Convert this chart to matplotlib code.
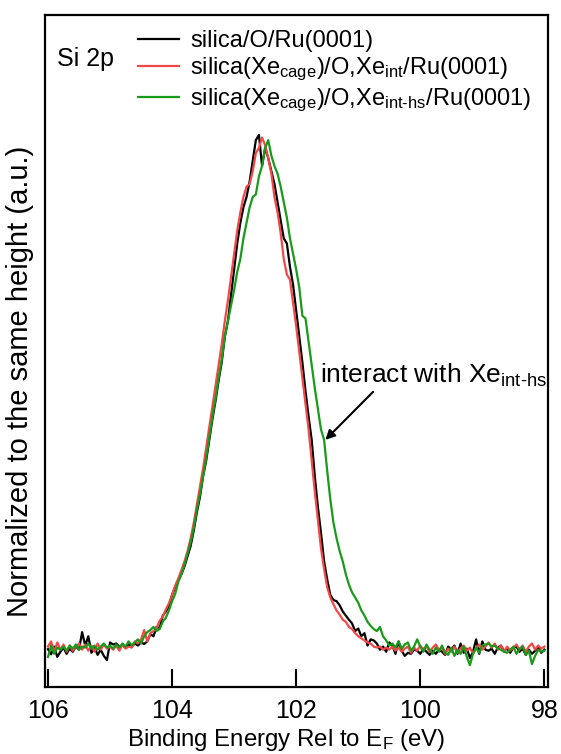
import numpy as np
import matplotlib
matplotlib.use("Agg")
import matplotlib.pyplot as plt

plt.rcParams['font.family'] = ['Liberation Sans', 'DejaVu Sans']
plt.rcParams['mathtext.fontset'] = 'custom'
plt.rcParams['mathtext.rm'] = 'Liberation Sans'
plt.rcParams['mathtext.default'] = 'regular'

# binding energy grid (eV), 106 -> 98 in 0.05 eV steps
energy = np.linspace(106.0, 98.0, 161)

# intensities normalised to the same peak height
black = [
    0.005, -0.005, 0.010, -0.010, 0.000, 0.008, -0.004, 0.006, 0.000, 0.010,
    0.004, 0.038, 0.012, 0.030, -0.002, 0.008, -0.006, 0.004, -0.008, -0.016,
    0.018, 0.014, 0.016, 0.010, 0.012, 0.008, 0.014, 0.010, 0.016, 0.012,
    0.018, 0.015, 0.020, 0.034, 0.030, 0.048, 0.046, 0.070, 0.078, 0.088,
    0.110, 0.125, 0.138, 0.150, 0.165, 0.185, 0.205, 0.235, 0.270, 0.300,
    0.340, 0.370, 0.410, 0.450, 0.485, 0.525, 0.560, 0.610, 0.640, 0.690,
    0.740, 0.790, 0.830, 0.860, 0.880, 0.910, 0.950, 0.990, 1.000, 0.940,
    0.975, 0.955, 0.930, 0.905, 0.870, 0.835, 0.800, 0.790, 0.745, 0.710,
    0.660, 0.610, 0.560, 0.505, 0.455, 0.410, 0.340, 0.280, 0.230, 0.175,
    0.140, 0.110, 0.100, 0.098, 0.090, 0.078, 0.070, 0.062, 0.055, 0.040,
    0.045, 0.030, 0.036, 0.012, 0.024, 0.022, 0.016, 0.004, 0.010, 0.000,
    0.018, 0.012, -0.004, 0.020, 0.002, -0.008, -0.002, -0.004, 0.004, 0.002,
    -0.004, 0.006, 0.000, -0.006, 0.002, -0.004, 0.004, 0.000, -0.006, 0.010,
    0.004, 0.012, -0.004, 0.016, -0.002, 0.006, -0.012, 0.000, 0.024, -0.004,
    0.020, 0.004, 0.002, 0.006, -0.004, 0.008, 0.012, 0.002, 0.006, -0.002,
    0.008, 0.010, 0.000, 0.006, -0.006, 0.004, -0.004, 0.002, 0.008, -0.002,
    0.004,
]
red = [
    0.010, 0.020, 0.000, 0.018, 0.004, 0.014, 0.000, 0.012, 0.002, 0.010,
    0.016, 0.004, 0.014, 0.002, 0.012, 0.000, 0.016, 0.004, 0.014, 0.006,
    0.010, 0.004, 0.012, 0.002, 0.014, 0.006, 0.010, 0.008, 0.020, 0.016,
    0.024, 0.042, 0.020, 0.036, 0.040, 0.046, 0.060, 0.068, 0.082, 0.094,
    0.110, 0.128, 0.142, 0.158, 0.175, 0.195, 0.220, 0.250, 0.285, 0.320,
    0.355, 0.395, 0.435, 0.475, 0.515, 0.555, 0.595, 0.640, 0.680, 0.725,
    0.770, 0.815, 0.850, 0.880, 0.900, 0.905, 0.930, 0.965, 0.975, 0.995,
    0.980, 0.955, 0.925, 0.880, 0.850, 0.810, 0.760, 0.730, 0.720, 0.675,
    0.630, 0.580, 0.530, 0.480, 0.430, 0.370, 0.310, 0.255, 0.200, 0.160,
    0.125, 0.105, 0.092, 0.080, 0.072, 0.062, 0.058, 0.048, 0.044, 0.036,
    0.030, 0.026, 0.022, 0.018, 0.016, 0.010, 0.008, 0.010, 0.004, 0.008,
    0.004, 0.010, 0.002, 0.008, 0.000, 0.006, 0.010, -0.002, 0.008, 0.002,
    0.012, 0.004, 0.010, 0.000, 0.008, 0.014, 0.004, 0.008, -0.004, 0.006,
    0.000, 0.010, -0.002, 0.006, 0.012, 0.002, 0.008, -0.004, 0.006, 0.014,
    0.004, 0.010, 0.018, 0.008, 0.016, 0.004, 0.012, 0.000, 0.010, 0.002,
    0.008, 0.014, 0.004, 0.012, 0.000, 0.010, 0.016, 0.004, 0.012, 0.006,
    0.010,
]
green = [
    -0.010, 0.012, -0.004, 0.008, 0.004, 0.010, 0.002, 0.012, 0.006, 0.014,
    0.004, 0.010, 0.008, 0.016, 0.006, 0.012, 0.004, 0.010, 0.016, 0.008,
    0.012, 0.006, 0.014, 0.008, 0.016, 0.010, 0.020, 0.012, 0.018, 0.024,
    0.016, 0.030, 0.038, 0.042, 0.048, 0.040, 0.044, 0.058, 0.066, 0.080,
    0.098, 0.112, 0.135, 0.150, 0.168, 0.190, 0.212, 0.240, 0.275, 0.305,
    0.340, 0.375, 0.415, 0.455, 0.490, 0.530, 0.565, 0.610, 0.640, 0.670,
    0.700, 0.735, 0.760, 0.800, 0.830, 0.860, 0.880, 0.885, 0.920, 0.940,
    0.975, 0.990, 0.960, 0.940, 0.925, 0.900, 0.870, 0.840, 0.800, 0.770,
    0.740, 0.705, 0.650, 0.645, 0.600, 0.555, 0.510, 0.470, 0.430, 0.410,
    0.350, 0.295, 0.250, 0.220, 0.195, 0.175, 0.150, 0.130, 0.115, 0.105,
    0.095, 0.080, 0.070, 0.058, 0.050, 0.044, 0.040, 0.048, 0.030, 0.022,
    0.012, 0.016, 0.008, 0.020, 0.006, 0.014, 0.018, 0.002, 0.010, 0.024,
    0.010, 0.000, 0.014, 0.004, -0.004, 0.008, 0.000, 0.012, -0.002, -0.006,
    0.008, -0.008, 0.004, -0.004, 0.010, -0.010, -0.026, -0.004, 0.008, -0.002,
    0.012, 0.014, 0.016, 0.010, 0.012, 0.006, 0.004, 0.000, -0.002, 0.004,
    0.010, -0.004, 0.006, 0.010, -0.006, 0.002, -0.024, -0.008, 0.004, 0.000,
    0.002,
]
assert len(black) == len(red) == len(green) == len(energy)

labels = [
    'silica/O/Ru(0001)',
    r'silica(Xe$_{cage}$)/O,Xe$_{int}$/Ru(0001)',
    r'silica(Xe$_{cage}$)/O,Xe$_{int\text{-}hs}$/Ru(0001)',
]
colors = ['#000000', '#f24848', '#1a9a1a']
xticks = [106, 104, 102, 100, 98]

fig = plt.figure(figsize=(5.61, 7.54), dpi=100)
ax = fig.add_axes([0.080, 0.089, 0.897, 0.891])

for y, c, lab in zip([black, red, green], colors, labels):
    ax.plot(energy, y, color=c, lw=1.6, label=lab)

ax.set_xlim(106.05, 97.94)
ax.set_ylim(-0.068, 1.232)
ax.set_xticks(xticks)
ax.set_xticklabels([str(t) for t in xticks])
ax.set_yticks([])
ax.tick_params(axis='x', direction='in', length=13, width=1.5,
               labelsize=18, pad=8.5)
for s in ax.spines.values():
    s.set_linewidth(1.6)

ax.set_xlabel(r'Binding Energy Rel to E$_F$ (eV)', fontsize=17.3)
ax.xaxis.set_label_coords(0.479, -0.0600)
ax.set_ylabel('Normalized to the same height (a.u.)', fontsize=21)
ax.yaxis.set_label_coords(-0.022, 0.455)

ax.text(0.024, 0.935, 'Si 2p', transform=ax.transAxes, fontsize=18,
        va='center', ha='left')

leg = ax.legend(loc='upper left', bbox_to_anchor=(0.186, 0.978), frameon=False,
                fontsize=17, handlelength=1.7, handletextpad=0.5,
                labelspacing=0.15, borderaxespad=0, borderpad=0)

ax.text(101.62, 0.52, 'interact with Xe$_{int\\text{-}hs}$', fontsize=19,
        ha='left', va='baseline')
ax.annotate('', xy=(101.53, 0.41), xytext=(100.76, 0.503),
            arrowprops=dict(arrowstyle='-|>', color='black', lw=1.5,
                            mutation_scale=14, shrinkA=0, shrinkB=0))

fig.savefig('out.png', dpi=100)
